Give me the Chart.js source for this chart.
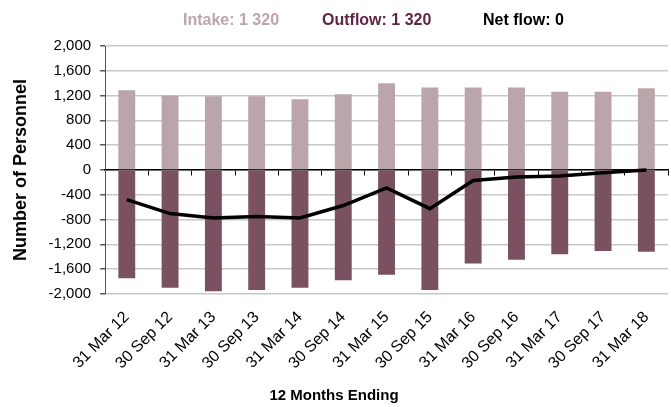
<!DOCTYPE html>
<html>
<head>
<meta charset="utf-8">
<script src="https://cdn.jsdelivr.net/npm/chart.js@4"></script>
<style>
  html, body { margin: 0; padding: 0; background: #fff; }
  #wrap { width: 671px; height: 407px; }
</style>
</head>
<body>
<div id="wrap"><canvas id="myChart"></canvas></div>
<script>
const labels = [
  '31 Mar 12', '30 Sep 12', '31 Mar 13', '30 Sep 13', '31 Mar 14', '30 Sep 14', '31 Mar 15',
  '30 Sep 15', '31 Mar 16', '30 Sep 16', '31 Mar 17', '30 Sep 17', '31 Mar 18'
];

const intake = [1285, 1200, 1190, 1190, 1140, 1220, 1400, 1330, 1330, 1330, 1260, 1260, 1320];
const outflow = [-1750, -1900, -1960, -1940, -1900, -1780, -1690, -1940, -1510, -1450, -1360, -1310, -1320];
const netFlow = [-480, -705, -775, -750, -775, -575, -290, -625, -170, -115, -100, -45, 0];

const keyTexts = ['Intake: 1 320', 'Outflow: 1 320', 'Net flow: 0'];
const keyColors = ['#bba6ac', '#5e2645', '#000000'];
const keyX = [183, 322, 483];

const fontFamily = '"Liberation Sans", Arial, sans-serif';

// the three coloured texts above the plot
const topKey = {
  id: 'topKey',
  afterDraw(chart) {
    const ctx = chart.ctx;
    ctx.save();
    ctx.font = 'bold 16px ' + fontFamily;
    ctx.textBaseline = 'middle';
    keyTexts.forEach((t, i) => {
      ctx.fillStyle = keyColors[i];
      ctx.fillText(t, keyX[i], 21);
    });
    ctx.restore();
  }
};

const datasets = [
  {
    type: 'line',
    label: 'Net flow',
    data: netFlow,
    borderColor: '#000000',
    borderWidth: 3.5,
    pointRadius: 0,
    tension: 0,
    order: 0
  },
  {
    label: 'Intake',
    data: intake,
    backgroundColor: '#b9a5aa',
    categoryPercentage: 1,
    barPercentage: 0.39,
    order: 1
  },
  {
    label: 'Outflow',
    data: outflow,
    backgroundColor: '#7a5160',
    categoryPercentage: 1,
    barPercentage: 0.39,
    order: 1
  }
];

const config = {
  type: 'bar',
  data: { labels: labels, datasets: datasets },
  options: {
    responsive: true,
    maintainAspectRatio: false,
    animation: false,
    layout: { padding: { top: 46, right: 3, left: 0, bottom: 0 } },
    plugins: {
      legend: { display: false },
      tooltip: { enabled: false },
      title: {
        display: true,
        position: 'bottom',
        text: '12 Months Ending',
        color: '#000',
        font: { family: fontFamily, size: 15, weight: 'bold' },
        padding: { top: 8, bottom: 2 }
      }
    },
    scales: {
      x: {
        stacked: true,
        offset: true,
        grid: { display: false, offset: true },
        border: { display: false },
        ticks: {
          color: '#000',
          font: { family: fontFamily, size: 16 },
          minRotation: 45,
          maxRotation: 45,
          padding: 6
        }
      },
      x0: {
        type: 'category',
        position: { y: 0 },
        offset: true,
        z: 1,
        grid: { offset: true, drawOnChartArea: false, drawTicks: true, tickLength: 5, color: '#000' },
        border: { display: true, color: '#000', width: 1.5 },
        ticks: { display: false }
      },
      y: {
        min: -2000,
        max: 2000,
        border: { display: true, color: '#555', width: 1 },
        grid: { color: '#c8c8c8', lineWidth: 1.5, tickLength: 5, tickColor: '#555' },
        ticks: {
          stepSize: 400,
          color: '#000',
          padding: 9,
          font: { family: fontFamily, size: 15 },
          callback: v => v.toLocaleString('en-US')
        },
        title: {
          display: true,
          text: 'Number of Personnel',
          color: '#000',
          font: { family: fontFamily, size: 18, weight: 'bold' },
          padding: { top: 10, bottom: 8 }
        }
      }
    }
  },
  plugins: [topKey]
};

const canvasElement = document.getElementById('myChart');
const myChart = new Chart(canvasElement, config);
</script>
</body>
</html>
